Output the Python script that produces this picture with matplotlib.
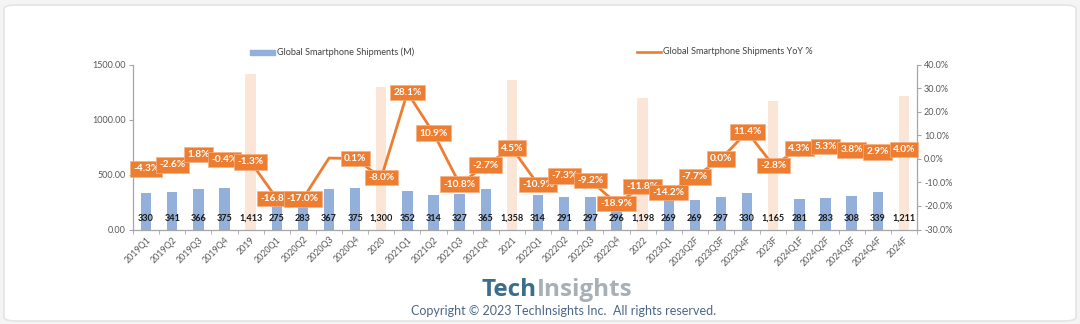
import matplotlib
matplotlib.use("Agg")
import matplotlib.pyplot as plt
from matplotlib.patches import FancyBboxPatch
from matplotlib.lines import Line2D
import numpy as np

categories = ["2019Q1", "2019Q2", "2019Q3", "2019Q4", "2019",
              "2020Q1", "2020Q2", "2020Q3", "2020Q4", "2020",
              "2021Q1", "2021Q2", "2021Q3", "2021Q4", "2021",
              "2022Q1", "2022Q2", "2022Q3", "2022Q4", "2022",
              "2023Q1", "2023Q2F", "2023Q3F", "2023Q4F", "2023F",
              "2024Q1F", "2024Q2F", "2024Q3F", "2024Q4F", "2024F"]
shipments = [330, 341, 366, 375, 1413,
             275, 283, 367, 375, 1300,
             352, 314, 327, 365, 1358,
             314, 291, 297, 296, 1198,
             269, 269, 297, 330, 1165,
             281, 283, 308, 339, 1211]
yoy = [-4.3, -2.6, 1.8, -0.4, -1.3,
       -16.8, -17.0, 0.3, 0.1, -8.0,
       28.1, 10.9, -10.8, -2.7, 4.5,
       -10.9, -7.3, -9.2, -18.9, -11.8,
       -14.2, -7.7, 0.0, 11.4, -2.8,
       4.3, 5.3, 3.8, 2.9, 4.0]
yoy_labels = ["-4.3%", "-2.6%", "1.8%", "-0.4%", "-1.3%",
              "-16.8%", "-17.0%", None, "0.1%", "-8.0%",
              "28.1%", "10.9%", "-10.8%", "-2.7%", "4.5%",
              "-10.9%", "-7.3%", "-9.2%", "-18.9%", "-11.8%",
              "-14.2%", "-7.7%", "0.0%", "11.4%", "-2.8%",
              "4.3%", "5.3%", "3.8%", "2.9%", "4.0%"]
left_ticks = [0, 500, 1000, 1500]
right_ticks = [-30, -20, -10, 0, 10, 20, 30, 40]

FONT = "Lato"
W, H = 1080, 324
fig = plt.figure(figsize=(W / 100, H / 100), dpi=100)
fig.patch.set_facecolor("#f4f4f4")

card = FancyBboxPatch((4 / W, 3 / H), 1072 / W, 316 / H,
                      boxstyle="round,pad=0,rounding_size=0.012",
                      transform=fig.transFigure, facecolor="white",
                      edgecolor="#e4e4e4", linewidth=1.2, zorder=-10)
fig.patches.append(card)

ax = fig.add_axes([133 / W, 1 - 229.5 / H, (917 - 133) / W, (229.5 - 64.5) / H])
ax.set_facecolor("none")
x = np.arange(len(categories))
annual = ["Q" not in c for c in categories]
colors = ["#fbe5d6" if a else "#92b0d9" for a in annual]
ax.bar(x, shipments, width=0.4, color=colors, zorder=1)
ax.set_xlim(-0.5, len(categories) - 0.5)
ax.set_ylim(0, 1500)
ax.set_yticks(left_ticks)
ax.set_yticklabels([f"{v:.2f}" for v in left_ticks], fontsize=6.5,
                   color="#595959", family=FONT)
ax.set_xticks(x)
ax.set_xticklabels(categories, rotation=45, ha="right", va="top",
                   rotation_mode="anchor", fontsize=6.4, color="#595959", family=FONT)
ax.tick_params(axis="x", length=0, pad=4)
ax.set_xticks(np.arange(-0.5, len(categories), 1), minor=True)
ax.tick_params(axis="x", which="minor", length=3, color="#a6a6a6")
ax.tick_params(axis="y", length=3, color="#a6a6a6", pad=2)
for s in ["top", "right"]:
    ax.spines[s].set_visible(False)
for s in ["left", "bottom"]:
    ax.spines[s].set_color("#a6a6a6")
    ax.spines[s].set_linewidth(0.9)

for xi, v in zip(x, shipments):
    ax.text(xi, 103, f"{v:,}", ha="center", va="center", fontsize=6.6,
            fontweight="bold", color="#1a1a1a", family=FONT, zorder=3)

ax2 = ax.twinx()
ax2.set_ylim(-30, 40)
ax2.set_yticks(right_ticks)
ax2.set_yticklabels([f"{v:.1f}%" for v in right_ticks], fontsize=6.5,
                    color="#595959", family=FONT)
ax2.tick_params(axis="y", length=3, color="#a6a6a6", pad=2)
for s in ["top", "left", "bottom"]:
    ax2.spines[s].set_visible(False)
ax2.spines["right"].set_color("#a6a6a6")
ax2.spines["right"].set_linewidth(0.9)
ax2.plot(x, yoy, color="#ed7d31", linewidth=2.0, zorder=2, solid_joinstyle="miter")
for xi, v, lab in zip(x, yoy, yoy_labels):
    if lab is None:
        continue
    ax2.text(xi, v, lab, ha="center", va="center", fontsize=7.3, fontweight="bold",
             color="white", family=FONT, zorder=4,
             bbox=dict(boxstyle="square,pad=0.32", facecolor="#ed7d31",
                       edgecolor="#f4b183", linewidth=0.5))

# legend
fig.patches.append(plt.Rectangle((250 / W, 1 - 54.5 / H), 25 / W, 5 / H,
                                 transform=fig.transFigure, color="#92b0d9"))
fig.text(277 / W, 1 - 52 / H, "Global Smartphone Shipments (M)", fontsize=6.6,
         color="#404040", family=FONT, va="center", ha="left")
fig.lines.append(Line2D([637 / W, 661 / W], [1 - 52 / H, 1 - 52 / H],
                        transform=fig.transFigure, color="#ed7d31", linewidth=1.9))
fig.text(663 / W, 1 - 52 / H, "Global Smartphone Shipments YoY %", fontsize=6.6,
         color="#404040", family=FONT, va="center", ha="left")

# logo and copyright
fig.text(537 / W, 1 - 290 / H, "Tech", fontsize=17.5, fontweight="bold",
         color="#3a6e8c", family="Open Sans", ha="right", va="center")
fig.text(537 / W, 1 - 290 / H, "Insights", fontsize=17.5, fontweight="bold",
         color="#a7b0b6", family="Open Sans", ha="left", va="center")
fig.text(564 / W, 1 - 311 / H, "Copyright \u00a9 2023 TechInsights Inc.  All rights reserved.",
         fontsize=9, color="#4a6785", family=FONT, ha="center", va="center")

fig.savefig("out.png", dpi=100, facecolor=fig.get_facecolor())
